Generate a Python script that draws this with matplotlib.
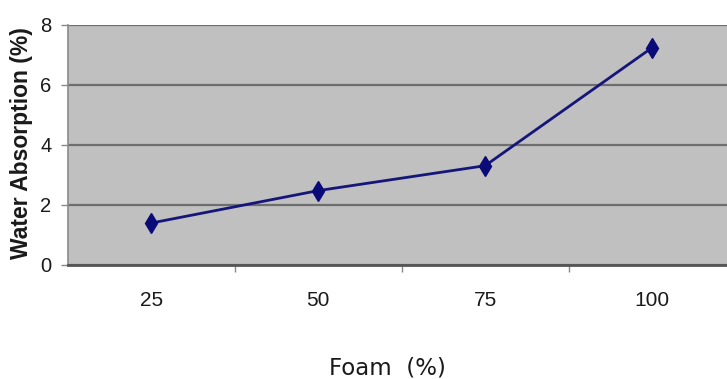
import matplotlib.pyplot as plt
from matplotlib.ticker import FixedLocator

foam = ['25', '50', '75', '100']
absorption = [1.4, 2.48, 3.31, 7.24]
yticks = [0, 2, 4, 6, 8]

fig = plt.figure(figsize=(7.27, 3.79), dpi=100)
fig.patch.set_facecolor('white')
ax = fig.add_axes([68 / 727, 1 - 265 / 379, 1 - 68 / 727, 240 / 379])
ax.set_facecolor('#c0c0c0')

x = list(range(len(foam)))
ax.plot(x, absorption, color='#16167a', lw=2, marker='d', markersize=10,
        markerfacecolor='#0a0a78', markeredgecolor='#0a0a78', zorder=3)

ax.set_ylim(0, 8)
ax.set_xlim(-0.5, 3.45)
ax.set_yticks(yticks)
ax.set_yticklabels([str(v) for v in yticks], fontsize=14.5, family='Liberation Sans')
ax.tick_params(axis='y', length=5, width=1, color='#888888', pad=7, labelcolor='#1a1a1a')

ax.set_xticks(x)
ax.set_xticklabels(foam, fontsize=15, family='Liberation Sans')
ax.tick_params(axis='x', which='major', length=0, pad=19, labelcolor='#1a1a1a')
ax.xaxis.set_minor_locator(FixedLocator([0.5, 1.5, 2.5]))
ax.tick_params(axis='x', which='minor', length=5, width=1, color='#888888')

ax.yaxis.grid(True, color='#6e6e6e', lw=1.6)
ax.set_axisbelow(True)
for s in ['top', 'right']:
    ax.spines[s].set_visible(False)
ax.spines['left'].set_color('#8a8a8a')
ax.spines['left'].set_linewidth(1.2)
ax.spines['bottom'].set_color('#555555')
ax.spines['bottom'].set_linewidth(2)

fig.text(22 / 727, 1 - 143 / 379, 'Water Absorption (%)', rotation=90,
         ha='center', va='center', fontsize=16.5, fontweight='bold',
         family='Liberation Sans', color='#1a1a1a')
fig.text(387 / 727, 1 - 368 / 379, 'Foam  (%)', ha='center', va='center',
         fontsize=16.5, family='DejaVu Sans', color='#1a1a1a')

fig.savefig('out.png', dpi=100)
